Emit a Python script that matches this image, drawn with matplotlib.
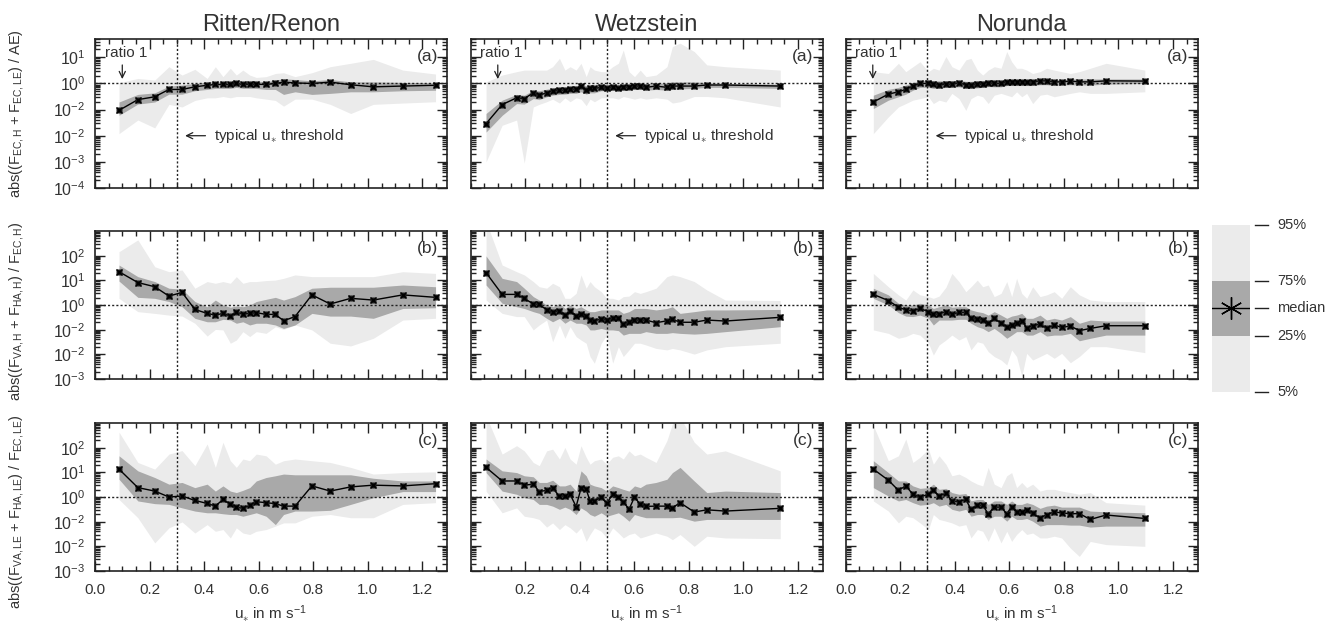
import numpy as np
import matplotlib.pyplot as plt
from matplotlib.ticker import FixedLocator, LogLocator, MultipleLocator, NullFormatter, FixedFormatter

plt.rcParams['font.family'] = ['Liberation Sans', 'DejaVu Sans']
plt.rcParams['mathtext.fontset'] = 'custom'
plt.rcParams['mathtext.rm'] = 'Liberation Sans'
plt.rcParams['mathtext.it'] = 'Liberation Sans:italic'
plt.rcParams['mathtext.bf'] = 'Liberation Sans:bold'

TXT = '#333333'
LIGHT = '#ebebeb'
DARK = '#a9a9a9'

# ---- data (all ratio values are log10 of the ratio) ----
site_names = ['Ritten/Renon', 'Wetzstein', 'Norunda']
site_thresholds = [0.3, 0.5, 0.3]

rit_x = [0.088, 0.157, 0.219, 0.271, 0.319, 0.366, 0.411, 0.441, 0.469, 0.496, 0.518, 0.542,
         0.567, 0.591, 0.627, 0.661, 0.691, 0.733, 0.795, 0.862, 0.937, 1.020, 1.128, 1.248]
rit_a_med = [-1.03, -0.62, -0.51, -0.23, -0.23, -0.13, -0.07, -0.04, -0.04, -0.04, 0.0, -0.04,
             -0.03, -0.03, -0.04, 0.0, 0.05, 0.02, 0.0, 0.05, -0.05, -0.13, -0.10, -0.07]
rit_a_q75 = [-0.71, -0.42, -0.36, -0.10, -0.06, 0.0, 0.06, 0.06, 0.06, 0.06, 0.10, 0.06,
             0.09, 0.09, 0.06, 0.13, 0.18, 0.15, 0.10, 0.15, 0.06, 0.06, 0.04, 0.03]
rit_a_q25 = [-1.22, -0.79, -0.71, -0.41, -0.41, -0.28, -0.23, -0.19, -0.19, -0.19, -0.15, -0.19,
             -0.19, -0.19, -0.23, -0.23, -0.42, -0.32, -0.42, -0.38, -0.32, -0.32, -0.28, -0.26]
rit_a_q95 = [0.03, 0.19, 0.13, 0.64, 0.32, 0.54, 0.19, 0.64, 0.26, 0.58, 0.32, 0.51,
             0.32, 0.23, 0.26, 0.38, 0.41, 0.26, 0.41, 0.64, 0.77, 0.92, 0.51, 0.36]
rit_a_q05 = [-1.92, -1.40, -1.70, -0.80, -0.90, -0.65, -0.55, -0.55, -0.50, -0.55, -0.50, -0.50,
             -0.50, -0.55, -0.60, -0.65, -0.87, -0.60, -0.60, -0.80, -1.15, -0.80, -0.75, -0.70]

rit_b_med = [1.35, 0.91, 0.74, 0.36, 0.51, -0.18, -0.34, -0.41, -0.34, -0.45, -0.30, -0.36,
             -0.34, -0.31, -0.38, -0.38, -0.64, -0.47, 0.41, 0.04, 0.27, 0.20, 0.41, 0.31]
rit_b_q75 = [1.62, 1.15, 0.95, 0.68, 0.64, 0.14, -0.07, 0.20, 0.0, -0.09, -0.04, -0.07,
             0.0, 0.14, 0.23, 0.31, 0.20, 0.34, 0.68, 0.72, 0.72, 0.72, 0.81, 0.74]
rit_b_q25 = [0.97, 0.31, 0.27, 0.14, -0.07, -0.54, -0.68, -0.68, -0.58, -0.61, -0.74, -0.68,
             -0.81, -0.74, -0.74, -0.81, -0.95, -0.81, -0.34, -0.45, -0.45, -0.54, -0.14, -0.11]
rit_b_q95 = [2.16, 2.64, 1.55, 1.35, 1.42, 0.68, 0.95, 0.88, 0.95, 0.88, 1.15, 0.88,
             0.95, 0.95, 0.99, 1.01, 1.08, 1.22, 1.15, 1.15, 1.15, 1.15, 1.35, 1.28]
rit_b_q05 = [0.27, -0.27, -0.34, -0.41, -0.45, -0.74, -1.26, -0.99, -1.01, -1.55, -1.42, -1.08,
             -1.28, -1.08, -1.15, -0.88, -0.99, -0.81, -1.01, -1.55, -1.66, -1.35, -0.61, -0.54]

rit_c_med = [1.13, 0.38, 0.24, 0.0, 0.04, -0.14, -0.26, -0.37, -0.10, -0.30, -0.41, -0.46,
             -0.34, -0.19, -0.23, -0.27, -0.37, -0.37, 0.45, 0.24, 0.41, 0.48, 0.45, 0.54]
rit_c_q75 = [1.67, 1.06, 0.79, 0.52, 0.59, 0.38, 0.52, 0.24, 0.45, 0.24, 0.18, 0.27,
             0.38, 0.65, 0.79, 0.86, 0.93, 0.90, 0.90, 0.90, 0.90, 0.76, 0.65, 0.65]
rit_c_q25 = [0.72, -0.16, -0.27, -0.30, -0.44, -0.57, -0.64, -0.64, -0.68, -0.71, -0.71, -0.78,
             -0.71, -0.64, -0.78, -1.12, -0.71, -0.57, -0.57, -0.54, -0.30, -0.03, 0.22, 0.22]
rit_c_q95 = [2.63, 1.40, 1.13, 1.74, 1.88, 1.27, 2.15, 1.20, 2.22, 1.47, 1.20, 1.54,
             1.47, 1.74, 1.67, 1.33, 1.47, 1.54, 1.47, 1.40, 1.20, 0.93, 0.99, 1.02]
rit_c_q05 = [-0.10, -0.84, -1.86, -1.25, -1.01, -1.46, -1.12, -1.39, -1.32, -1.66, -1.25, -1.46,
             -1.52, -1.39, -1.32, -1.18, -1.05, -1.05, -0.78, -0.71, -0.84, -0.84, -0.30, -0.23]

wet_x = [0.057, 0.116, 0.169, 0.197, 0.230, 0.252, 0.279, 0.301, 0.326, 0.346, 0.365, 0.387,
         0.405, 0.424, 0.438, 0.454, 0.479, 0.499, 0.521, 0.542, 0.560, 0.581, 0.601, 0.622,
         0.643, 0.680, 0.720, 0.740, 0.768, 0.820, 0.866, 0.934, 1.135]
wet_a_med = [-1.54, -0.81, -0.55, -0.58, -0.36, -0.45, -0.36, -0.29, -0.26, -0.26, -0.23, -0.21,
             -0.10, -0.26, -0.19, -0.19, -0.15, -0.19, -0.15, -0.17, -0.15, -0.13, -0.10, -0.10,
             -0.15, -0.10, -0.15, -0.10, -0.10, -0.10, -0.06, -0.06, -0.10]
wet_a_q75 = [-1.15, -0.64, -0.42, -0.45, -0.26, -0.28, -0.22, -0.18, -0.15, -0.14, -0.12, -0.10,
             -0.05, -0.08, -0.08, -0.08, -0.06, -0.06, -0.05, -0.05, -0.04, -0.03, 0.0, 0.0,
             -0.02, 0.0, 0.03, 0.06, 0.06, 0.06, 0.03, 0.0, -0.03]
wet_a_q25 = [-1.86, -1.22, -0.77, -0.79, -0.58, -0.62, -0.51, -0.45, -0.42, -0.41, -0.38, -0.38,
             -0.32, -0.41, -0.36, -0.36, -0.28, -0.28, -0.26, -0.28, -0.26, -0.23, -0.21, -0.21,
             -0.26, -0.23, -0.26, -0.23, -0.21, -0.19, -0.15, -0.15, -0.19]
wet_a_q95 = [0.06, 0.32, 0.45, 0.51, 0.51, 0.51, 0.51, 0.64, 0.96, 0.51, 0.64, 0.51,
             0.77, 0.26, 0.64, 0.51, 0.45, 0.45, 0.64, 0.77, 1.28, 0.45, 0.26, 0.51,
             0.26, 0.32, 0.64, 1.41, 1.54, 1.22, 0.71, 0.64, 0.51]
wet_a_q05 = [-3.00, -1.60, -1.40, -3.05, -0.90, -0.80, -0.70, -0.60, -0.75, -0.55, -0.70, -0.55,
             -0.60, -0.85, -0.60, -0.70, -0.55, -0.55, -0.55, -0.60, -0.50, -0.55, -0.60, -0.55,
             -0.60, -0.55, -0.60, -0.75, -0.70, -0.50, -0.50, -0.55, -0.90]

wet_b_med = [1.31, 0.43, 0.43, 0.27, 0.04, 0.03, -0.20, -0.30, -0.23, -0.41, -0.23, -0.43,
             -0.36, -0.45, -0.61, -0.64, -0.57, -0.61, -0.54, -0.54, -0.77, -0.70, -0.61, -0.61,
             -0.61, -0.72, -0.64, -0.58, -0.70, -0.70, -0.61, -0.65, -0.50]
wet_b_q75 = [1.99, 1.08, 0.95, 0.68, 0.34, 0.20, 0.0, -0.07, 0.07, -0.14, 0.0, -0.14,
             -0.07, -0.20, -0.27, -0.27, -0.20, -0.20, -0.20, -0.20, -0.34, -0.27, -0.14, -0.14,
             -0.14, -0.20, -0.14, -0.07, -0.34, -0.27, -0.20, -0.20, -0.18]
wet_b_q25 = [0.81, 0.07, -0.07, -0.14, -0.27, -0.34, -0.54, -0.68, -0.54, -0.74, -0.61, -0.74,
             -0.74, -0.81, -1.01, -1.01, -0.95, -1.01, -1.01, -1.04, -1.22, -1.15, -1.15, -1.15,
             -1.08, -1.15, -1.15, -1.12, -1.15, -1.18, -1.15, -1.08, -0.88]
wet_b_q95 = [3.40, 1.62, 1.35, 1.22, 0.95, 0.74, 0.68, 0.88, 0.74, 0.27, 0.27, 0.47,
             1.22, 0.68, 0.95, 0.74, 0.54, 0.27, 0.27, 0.20, 0.34, 0.36, 0.54, 0.47,
             0.54, 0.68, 1.15, 1.22, 1.15, 0.95, 0.61, 0.20, 0.18]
wet_b_q05 = [0.20, -0.34, -0.47, -0.47, -1.01, -0.81, -0.61, -1.49, -0.81, -1.35, -0.88, -1.28,
             -1.42, -1.55, -2.09, -2.36, -1.55, -1.22, -2.36, -1.69, -2.09, -1.82, -1.55, -1.55,
             -1.62, -1.76, -1.82, -1.76, -1.82, -1.99, -1.82, -1.69, -1.55]

wet_c_med = [1.20, 0.65, 0.65, 0.48, 0.52, 0.22, 0.27, 0.35, 0.04, 0.04, 0.11, -0.39,
             0.35, 0.31, -0.16, -0.16, 0.0, -0.26, 0.11, 0.01, -0.19, -0.50, 0.0, -0.30,
             -0.38, -0.37, -0.37, -0.44, -0.23, -0.61, -0.52, -0.57, -0.46]
wet_c_q75 = [1.54, 1.06, 0.99, 0.86, 0.82, 0.59, 0.59, 0.68, 0.45, 0.45, 0.52, 0.24,
             1.06, 0.86, 0.52, 0.45, 0.38, 0.24, 0.45, 0.38, 0.31, 0.24, 0.45, 0.38,
             0.52, 0.59, 0.72, 0.99, 1.20, 0.65, 0.18, 0.24, 0.18]
wet_c_q25 = [0.99, 0.24, 0.11, -0.03, -0.10, -0.30, -0.30, -0.37, -0.50, -0.41, -0.50, -0.71,
             -0.44, -0.57, -0.71, -0.78, -0.64, -0.78, -0.71, -0.64, -0.78, -0.98, -0.71, -0.78,
             -0.84, -0.84, -0.84, -0.84, -0.82, -0.98, -0.91, -0.91, -0.91]
wet_c_q95 = [3.30, 1.74, 2.08, 1.87, 1.40, 1.27, 1.87, 1.94, 1.54, 2.01, 1.54, 1.33,
             2.08, 1.61, 1.33, 1.47, 1.54, 1.33, 1.61, 1.67, 1.54, 1.87, 1.67, 1.74,
             1.61, 1.40, 2.29, 2.97, 3.24, 2.22, 1.74, 1.87, 1.06]
wet_c_q05 = [0.24, -0.64, -0.44, -0.78, -0.84, -0.91, -1.22, -1.05, -1.32, -1.12, -1.25, -1.46,
             -1.25, -1.80, -1.52, -1.25, -1.39, -1.66, -1.25, -1.46, -1.66, -1.52, -1.46, -1.66,
             -1.59, -1.46, -1.59, -1.73, -1.52, -2.00, -1.59, -1.66, -1.69]

nor_x = [0.102, 0.157, 0.194, 0.221, 0.247, 0.273, 0.304, 0.322, 0.343, 0.368, 0.390, 0.416,
         0.441, 0.460, 0.483, 0.503, 0.523, 0.545, 0.570, 0.591, 0.609, 0.627, 0.646, 0.664,
         0.686, 0.713, 0.737, 0.765, 0.792, 0.824, 0.857, 0.897, 0.955, 1.097]
nor_a_med = [-0.71, -0.41, -0.32, -0.23, -0.10, 0.0, 0.0, -0.04, -0.06, -0.03, -0.03, 0.03,
             -0.06, -0.06, -0.04, -0.03, 0.03, 0.0, 0.0, 0.06, 0.06, 0.06, 0.06, 0.06,
             0.06, 0.10, 0.10, 0.06, 0.06, 0.09, 0.06, 0.06, 0.10, 0.09]
nor_a_q75 = [-0.45, -0.23, -0.15, -0.06, 0.03, 0.10, 0.13, 0.10, 0.10, 0.10, 0.10, 0.13,
             0.08, 0.08, 0.10, 0.10, 0.13, 0.12, 0.12, 0.15, 0.15, 0.15, 0.15, 0.15,
             0.15, 0.17, 0.17, 0.15, 0.15, 0.17, 0.17, 0.17, 0.17, 0.17]
nor_a_q25 = [-0.96, -0.64, -0.51, -0.41, -0.26, -0.15, -0.15, -0.19, -0.19, -0.15, -0.15, -0.13,
             -0.19, -0.19, -0.17, -0.15, -0.12, -0.13, -0.13, -0.08, -0.08, -0.08, -0.08, -0.08,
             -0.08, -0.05, -0.05, -0.08, -0.06, -0.05, -0.06, -0.06, -0.03, 0.0]
nor_a_q95 = [0.45, 0.38, 0.77, 0.45, 0.64, 0.83, 0.45, 0.58, 0.51, 1.03, 0.64, 0.51,
             0.90, 0.96, 0.51, 0.32, 0.51, 0.64, 0.58, 1.22, 0.83, 0.58, 0.58, 0.51,
             0.38, 0.45, 0.58, 0.51, 0.45, 0.38, 0.45, 0.58, 0.77, 0.51]
nor_a_q05 = [-1.92, -1.28, -0.90, -0.77, -0.64, -0.58, -0.51, -0.77, -0.64, -0.71, -0.38, -0.58,
             -1.03, -0.58, -0.45, -0.51, -0.77, -0.45, -0.38, -0.45, -0.51, -0.32, -0.51, -0.38,
             -0.77, -0.45, -0.41, -0.51, -0.45, -0.38, -0.32, -0.38, -0.38, -0.32]

nor_b_med = [0.43, 0.18, -0.09, -0.20, -0.24, -0.14, -0.27, -0.38, -0.36, -0.27, -0.38, -0.30,
             -0.30, -0.54, -0.58, -0.61, -0.74, -0.54, -0.74, -0.88, -0.80, -0.72, -0.65, -0.92,
             -0.85, -0.77, -0.95, -0.81, -0.91, -0.85, -1.04, -0.95, -0.84, -0.84]
nor_b_q75 = [0.68, 0.41, 0.07, 0.0, 0.0, 0.07, 0.0, -0.14, -0.07, 0.0, -0.09, -0.07,
             -0.07, -0.20, -0.27, -0.31, -0.41, -0.27, -0.41, -0.54, -0.45, -0.41, -0.34, -0.54,
             -0.54, -0.41, -0.61, -0.54, -0.61, -0.47, -0.74, -0.61, -0.65, -0.65]
nor_b_q25 = [0.27, 0.0, -0.31, -0.45, -0.47, -0.41, -0.54, -0.81, -0.61, -0.61, -0.61, -0.58,
             -0.58, -0.74, -0.88, -0.95, -1.08, -0.95, -1.15, -1.35, -1.22, -1.08, -1.08, -1.22,
             -1.22, -1.08, -1.26, -1.22, -1.22, -1.15, -1.45, -1.35, -1.22, -1.22]
nor_b_q95 = [1.28, 0.74, 0.41, 0.20, 0.61, 0.41, 0.34, 0.27, 0.36, 0.72, 1.28, 0.95,
             0.54, 0.74, 1.01, 0.74, 0.81, 0.34, 0.47, 0.95, 0.34, 1.08, 0.47, 0.27,
             0.74, 0.34, 0.41, 0.54, 0.27, 0.74, 0.41, 0.20, 0.14, 0.14]
nor_b_q05 = [-1.01, -1.15, -1.35, -1.28, -1.15, -1.22, -1.55, -2.03, -1.62, -1.42, -1.22, -1.42,
             -1.28, -1.82, -1.49, -1.55, -1.89, -2.09, -2.23, -2.43, -1.82, -2.09, -2.90, -1.96,
             -2.23, -2.09, -1.96, -2.16, -1.96, -2.34, -2.09, -1.69, -1.69, -1.93]

nor_c_med = [1.13, 0.68, 0.27, 0.45, 0.11, 0.0, 0.11, 0.27, 0.04, 0.15, -0.16, -0.19,
             -0.10, -0.50, -0.34, -0.34, -0.68, -0.41, -0.41, -0.68, -0.39, -0.61, -0.61, -0.54,
             -0.64, -0.87, -0.71, -0.61, -0.64, -0.68, -0.67, -0.91, -0.73, -0.87]
nor_c_q75 = [1.47, 0.99, 0.65, 0.65, 0.45, 0.35, 0.38, 0.52, 0.31, 0.35, 0.18, 0.11,
             0.14, -0.16, -0.10, -0.10, -0.30, -0.16, -0.16, -0.30, -0.16, -0.30, -0.30, -0.23,
             -0.30, -0.46, -0.37, -0.33, -0.41, -0.41, -0.41, -0.57, -0.60, -0.64]
nor_c_q25 = [0.38, 0.04, -0.16, -0.10, -0.23, -0.33, -0.30, -0.23, -0.37, -0.30, -0.50, -0.57,
             -0.50, -0.78, -0.71, -0.71, -0.91, -0.78, -0.78, -0.98, -0.78, -0.91, -0.91, -0.87,
             -0.98, -1.18, -1.12, -1.12, -1.12, -1.14, -1.14, -1.22, -1.18, -1.18]
nor_c_q95 = [2.90, 1.47, 1.67, 2.35, 1.40, 1.61, 1.95, 1.33, 1.67, 1.33, 0.86, 0.93,
             0.79, 0.65, 0.52, 0.45, 1.20, 0.52, 0.38, 0.86, 0.99, 0.38, 0.59, 0.38,
             0.52, 0.24, 0.31, 0.31, 0.24, 0.18, 0.11, 0.18, -0.23, -0.33]
nor_c_q05 = [-0.16, -0.57, -1.05, -0.78, -0.84, -1.05, -1.32, -0.71, -0.91, -0.98, -1.05, -1.18,
             -1.12, -1.66, -1.32, -1.39, -1.80, -1.25, -1.86, -1.39, -1.80, -1.52, -1.32, -1.52,
             -1.46, -1.66, -1.66, -1.59, -1.66, -2.07, -2.41, -1.80, -1.93, -2.00]

row_tags = ['(a)', '(b)', '(c)']
row_ylabels = [r'abs((F$_{\mathregular{EC,H}}$ + F$_{\mathregular{EC,LE}}$) / AE)',
               r'abs((F$_{\mathregular{VA,H}}$ + F$_{\mathregular{HA,H}}$) / F$_{\mathregular{EC,H}}$)',
               r'abs((F$_{\mathregular{VA,LE}}$ + F$_{\mathregular{HA,LE}}$) / F$_{\mathregular{EC,LE}}$)']
row_ylims = [(1e-4, 10 ** 1.7), (1e-3, 1e3), (1e-3, 1e3)]
row_yticks = [[1e1, 1e0, 1e-1, 1e-2, 1e-3, 1e-4],
              [1e2, 1e1, 1e0, 1e-1, 1e-2, 1e-3],
              [1e2, 1e1, 1e0, 1e-1, 1e-2, 1e-3]]
row_yticklabels = [[r'$10^{1}$', r'$10^{0}$', r'$10^{-2}$', r'$10^{-2}$', r'$10^{-3}$', r'$10^{-4}$'],
                   [r'$10^{2}$', r'$10^{1}$', r'$10^{0}$', r'$10^{-2}$', r'$10^{-2}$', r'$10^{-3}$'],
                   [r'$10^{2}$', r'$10^{1}$', r'$10^{0}$', r'$10^{-2}$', r'$10^{-2}$', r'$10^{-3}$']]
xtick_sets = [[0.0, 0.2, 0.4, 0.6, 0.8, 1.0, 1.2],
              [0.2, 0.4, 0.6, 0.8, 1.0, 1.2],
              [0.0, 0.2, 0.4, 0.6, 0.8, 1.0, 1.2]]

site_x = [rit_x, wet_x, nor_x]
site_rows = [
    [(rit_a_med, rit_a_q25, rit_a_q75, rit_a_q05, rit_a_q95),
     (rit_b_med, rit_b_q25, rit_b_q75, rit_b_q05, rit_b_q95),
     (rit_c_med, rit_c_q25, rit_c_q75, rit_c_q05, rit_c_q95)],
    [(wet_a_med, wet_a_q25, wet_a_q75, wet_a_q05, wet_a_q95),
     (wet_b_med, wet_b_q25, wet_b_q75, wet_b_q05, wet_b_q95),
     (wet_c_med, wet_c_q25, wet_c_q75, wet_c_q05, wet_c_q95)],
    [(nor_a_med, nor_a_q25, nor_a_q75, nor_a_q05, nor_a_q95),
     (nor_b_med, nor_b_q25, nor_b_q75, nor_b_q05, nor_b_q95),
     (nor_c_med, nor_c_q25, nor_c_q75, nor_c_q05, nor_c_q95)],
]

W, H = 1338, 626
fig = plt.figure(figsize=(W / 100, H / 100), dpi=100)

col_left = [95, 470.5, 845.5]
row_top = [39, 231, 423]
row_h = [149, 148, 148]
ax_w = 352
ylabel_centres = [114, 311, 512]   # pixel rows of the rotated y labels

STAR = (6, 2, 0)

for c in range(3):
    x = np.array(site_x[c])
    thr = site_thresholds[c]
    for r in range(3):
        ax = fig.add_axes([col_left[c] / W, 1 - (row_top[r] + row_h[r]) / H, ax_w / W, row_h[r] / H])
        med, q25, q75, q05, q95 = [10 ** np.array(v) for v in site_rows[c][r]]
        ax.fill_between(x, q05, q95, color=LIGHT, lw=0, zorder=1)
        ax.fill_between(x, q25, q75, color=DARK, lw=0, zorder=2)
        ax.axhline(1.0, color='#222222', lw=1.0, ls=(0, (1.5, 1.5)), zorder=3)
        ax.axvline(thr, color='#222222', lw=1.0, ls=(0, (1.5, 1.5)), zorder=3)
        ax.plot(x, med, color='black', lw=1.0, zorder=4)
        ax.plot(x, med, ls='none', marker='s', ms=3.8, mfc='#1a1a1a', mec='none', zorder=5)
        ax.plot(x, med, ls='none', marker='x', ms=5, mew=1.0, color='black', zorder=5)

        ax.set_yscale('log')
        ax.set_ylim(*row_ylims[r])
        ax.set_xlim(0, 1.29)
        ax.yaxis.set_major_locator(FixedLocator(row_yticks[r]))
        ax.yaxis.set_minor_locator(LogLocator(base=10, subs=np.arange(2, 10), numticks=20))
        ax.yaxis.set_minor_formatter(NullFormatter())
        if c == 0:
            ax.yaxis.set_major_formatter(FixedFormatter(row_yticklabels[r]))
        else:
            ax.yaxis.set_major_formatter(NullFormatter())
        ax.xaxis.set_major_locator(FixedLocator(xtick_sets[c]))
        ax.xaxis.set_minor_locator(MultipleLocator(0.05))
        if r == 2:
            ax.set_xticklabels(['%.1f' % t for t in xtick_sets[c]])
            ax.set_xlabel(r'u$_{\ast}$ in m s$^{\mathregular{-1}}$', fontsize=11, color=TXT, labelpad=4)
        else:
            ax.xaxis.set_major_formatter(NullFormatter())

        ax.tick_params(which='both', direction='in', top=True, right=True,
                       labelsize=11, colors='#222222', labelcolor=TXT, width=1.0)
        ax.tick_params(which='major', length=7)
        ax.tick_params(which='minor', length=3.5)
        ax.tick_params(axis='y', which='major', pad=7, labelsize=11.5)
        ax.tick_params(axis='x', which='major', pad=9)
        for sp in ax.spines.values():
            sp.set_linewidth(1.2)
            sp.set_color('#222222')

        ax.text(0.975, 0.93, row_tags[r], transform=ax.transAxes, ha='right', va='top',
                fontsize=12.5, color=TXT)

        if r == 0:
            ax.set_title(site_names[c], fontsize=17, color=TXT, pad=6)
            ax.text(0.035, 15, 'ratio 1', fontsize=11, color=TXT, va='center', ha='left')
            ax.annotate('', xy=(0.1, 1.15), xytext=(0.1, 6.5),
                        arrowprops=dict(arrowstyle='->,head_length=0.45,head_width=0.22',
                                        color='#222222', lw=0.9))
            ax.annotate('', xy=(thr + 0.02, 1e-2), xytext=(thr + 0.115, 1e-2),
                        arrowprops=dict(arrowstyle='->,head_length=0.45,head_width=0.22',
                                        color='#222222', lw=0.9))
            ax.text(thr + 0.135, 1e-2, r'typical u$_{\ast}$ threshold', fontsize=11,
                    color=TXT, va='center', ha='left')

for r in range(3):
    fig.text(17 / W, 1 - ylabel_centres[r] / H, row_ylabels[r], rotation=90, ha='center',
             va='center', fontsize=10.5, color=TXT)

# legend box on the right
legend_levels = ['95%', '75%', 'median', '25%', '5%']
legend_pos = [1.0, 0.665, 0.503, 0.335, 0.0]
lax = fig.add_axes([1212 / W, 1 - 392 / H, 38 / W, 167 / H])
lax.set_xlim(0, 1)
lax.set_ylim(0, 1)
lax.axis('off')
lax.fill_between([0, 1], 0, 1, color=LIGHT, lw=0)
lax.fill_between([0, 1], legend_pos[3], legend_pos[1], color=DARK, lw=0)
lax.plot([0, 1], [legend_pos[2], legend_pos[2]], color='black', lw=1.0)
lax.plot([0.5], [legend_pos[2]], marker=STAR, ms=16, mew=1.0, color='black')
for lab, p in zip(legend_levels, legend_pos):
    lax.plot([1.12, 1.48], [p, p], color='#222222', lw=1.0, clip_on=False)
    lax.text(1.72, p, lab, fontsize=10.5, color=TXT, va='center', ha='left')

fig.savefig('out.png', dpi=100)
